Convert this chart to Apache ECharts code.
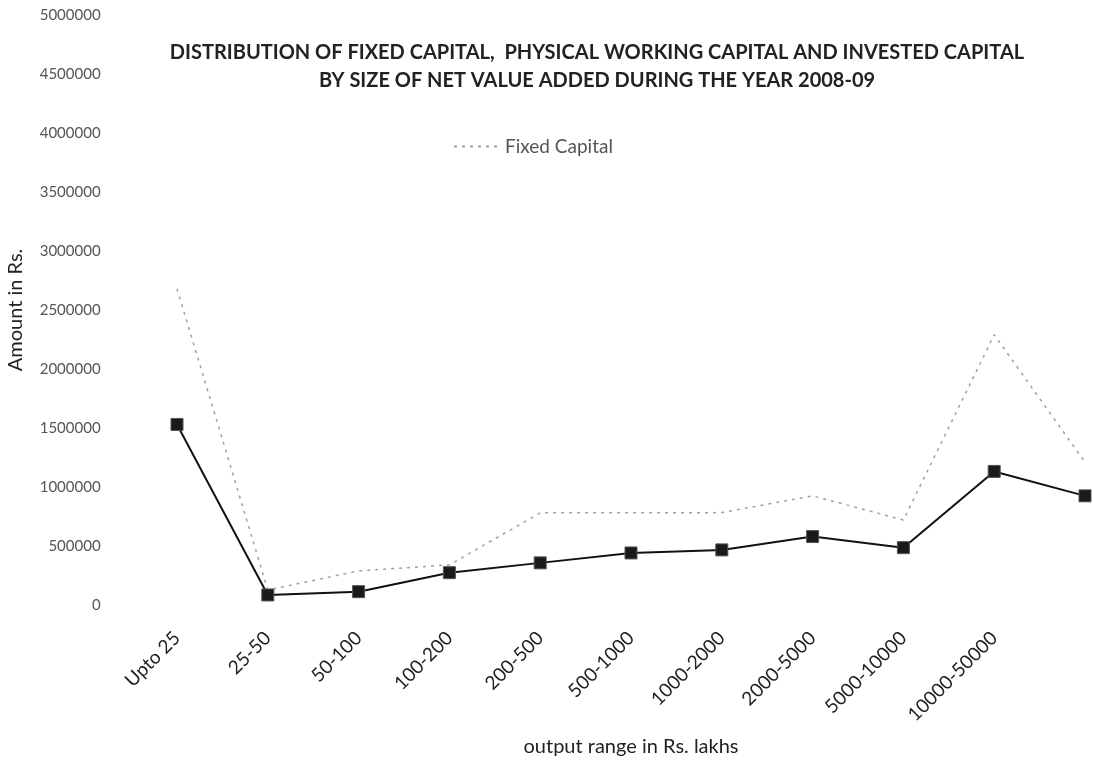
<!DOCTYPE html>
<html>
<head>
<meta charset="utf-8">
<script src="https://cdn.jsdelivr.net/npm/echarts@6/dist/echarts.min.js"></script>
<style>
  html, body { margin: 0; padding: 0; background: #fff; }
  #chart { width: 1093px; height: 762px; }
</style>
</head>
<body>
<div id="chart"></div>
<script>
  const categories = ['Upto 25', '25-50', '50-100', '100-200', '200-500', '500-1000',
    '1000-2000', '2000-5000', '5000-10000', '10000-50000', '']
  const fixedCapital = [2680000, 127000, 289000, 340000, 781000, 781000,
    783000, 925000, 720000, 2290000, 1210000]
  const workingCapital = [1530000, 85000, 113000, 274000, 357000, 441000,
    467000, 580000, 486000, 1132000, 925000]
  const yTicks = { min: 0, max: 5000000, interval: 500000 }

  const font = 'Lato, "Open Sans", sans-serif'

  const chart = echarts.init(document.getElementById('chart'))
  chart.setOption({
    animation: false,
    title: {
      text: 'DISTRIBUTION OF FIXED CAPITAL,  PHYSICAL WORKING CAPITAL AND INVESTED CAPITAL\nBY SIZE OF NET VALUE ADDED DURING THE YEAR 2008-09',
      left: 592,
      top: 34,
      textAlign: 'center',
      textStyle: {
        fontFamily: font,
        fontSize: 20,
        fontWeight: 'bold',
        color: '#222',
        lineHeight: 28
      }
    },
    legend: {
      data: [{ name: 'Fixed Capital', itemStyle: { opacity: 0 } }],
      left: 448,
      top: 132,
      itemWidth: 46,
      itemHeight: 14,
      itemGap: 4,
      textStyle: { fontFamily: font, fontSize: 19, color: '#555' }
    },
    grid: {
      left: 131.6,
      width: 998.8,
      top: 15,
      bottom: 157,
      outerBoundsMode: 'none'
    },
    xAxis: {
      type: 'category',
      data: categories,
      name: 'output range in Rs. lakhs',
      nameLocation: 'middle',
      nameGap: 132,
      nameTextStyle: { fontFamily: font, fontSize: 20, color: '#222' },
      axisLine: { show: false },
      axisTick: { show: false },
      axisLabel: {
        rotate: 45,
        margin: 30,
        interval: 0,
        fontFamily: font,
        fontSize: 19,
        color: '#222'
      }
    },
    yAxis: {
      type: 'value',
      min: yTicks.min,
      max: yTicks.max,
      interval: yTicks.interval,
      name: 'Amount in Rs.',
      nameLocation: 'middle',
      nameGap: 106,
      nameTextStyle: { fontFamily: font, fontSize: 20, color: '#222' },
      axisLine: { show: false },
      axisTick: { show: false },
      splitLine: { show: false },
      axisLabel: {
        margin: 31,
        fontFamily: font,
        fontSize: 15,
        color: '#555',
        formatter: (v) => String(v)
      }
    },
    series: [
      {
        name: 'Fixed Capital',
        type: 'line',
        data: fixedCapital,
        symbol: 'none',
        lineStyle: { color: '#a0a0a0', width: 1.5, type: [3, 5] },
        itemStyle: { color: '#a0a0a0' }
      },
      {
        name: 'Physical Working Capital',
        type: 'line',
        data: workingCapital,
        symbol: 'rect',
        symbolSize: 12,
        lineStyle: { color: '#111', width: 2 },
        itemStyle: { color: '#1a1a1a', borderColor: '#555', borderWidth: 1 }
      }
    ]
  })
</script>
</body>
</html>
